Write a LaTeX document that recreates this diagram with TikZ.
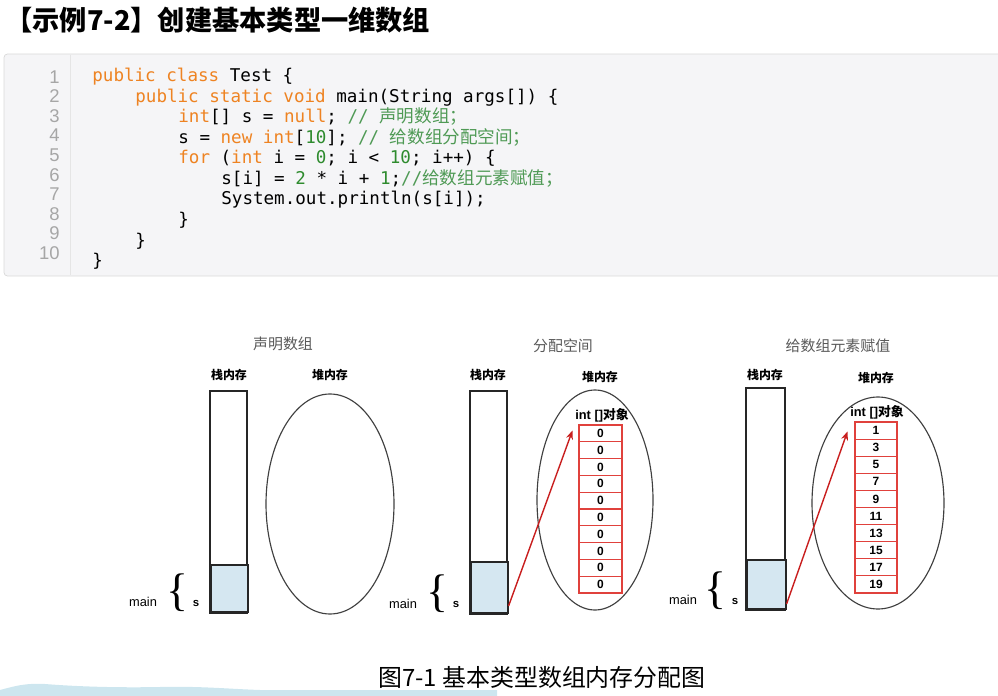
\documentclass[tikz,border=0pt]{standalone}
\usepackage{fontspec}
\setmainfont{Liberation Sans}
\setmonofont{DejaVu Sans Mono}
\newfontfamily\cjk{Noto Sans CJK SC}
\newfontfamily\bracefont{Liberation Serif}
\usetikzlibrary{arrows.meta}

\definecolor{kwc}{HTML}{EE8322}
\definecolor{numc}{HTML}{2E8B2E}
\definecolor{cmtc}{HTML}{4F9A55}
\definecolor{panel}{HTML}{F5F5F7}
\definecolor{cellred}{HTML}{E0413C}
\definecolor{ptrred}{HTML}{C81E1E}
\definecolor{sblue}{HTML}{D5E7F1}
\definecolor{wave}{HTML}{CDE6EF}
\newcommand\kw[1]{\textcolor{kwc}{#1}}
\newcommand\jnum[1]{\textcolor{numc}{#1}}
\newcommand\cmt[1]{\textcolor{cmtc}{#1}}

\begin{document}
\begin{tikzpicture}[x=0.02cm, y=-0.02cm, every node/.style={inner sep=0pt},
    codeline/.style={anchor=base west, font=\ttfamily\fontsize{10}{12}\selectfont},
    lineno/.style={anchor=base east, text=gray!70, font=\fontsize{10.5}{12}\selectfont},
    phase/.style={text=black!65, font=\cjk\fontsize{8.5}{10}\selectfont},
    memlbl/.style={font=\cjk\bfseries\fontsize{6.8}{8}\selectfont},
    objlbl/.style={font=\bfseries\fontsize{7.3}{8}\selectfont},
    lbl/.style={font=\fontsize{7.3}{8}\selectfont},
    brace/.style={font=\bracefont\fontsize{26}{26}\selectfont},
    stack/.style={draw=black!85, line width=0.9pt},
    scell/.style={draw=black!85, line width=0.9pt, fill=sblue},
    heap/.style={draw=black!75, line width=0.65pt},
    cell/.style={draw=cellred, line width=0.6pt, font=\bfseries\fontsize{6.8}{8}\selectfont},
    ptr/.style={draw=ptrred, line width=0.8pt, -{Stealth[length=5pt,width=4pt]}}]
    \useasboundingbox (0,0) rectangle (998,696);

    % Заголовок
    \node[anchor=west, font=\cjk\bfseries\fontsize{15.5}{18}\selectfont] (title) at (5,20) {【示例7-2】创建基本类型一维数组};

    % Окно с кодом
    \draw[fill=panel, draw=black!15, rounded corners=2pt] (4,54) rectangle (1012,276);
    \draw[black!10] (70,55) -- (70,275);
    \foreach \n in {1,...,10}
        \node[lineno] (n\n) at ({60},{83.5+(\n-1)*19.5}) {\n};
    \node[codeline] (c1) at (92,82) {\kw{public class} Test \{};
    \node[codeline] (c2) at (135,102.5) {\kw{public static void} main(String args[]) \{};
    \node[codeline] (c3) at (178,123) {\kw{int}[] s = \kw{null}; \cmt{// {\cjk 声明数组；}}};
    \node[codeline] (c4) at (178,143.5) {s = \kw{new int}[\jnum{10}]; \cmt{// {\cjk 给数组分配空间；}}};
    \node[codeline] (c5) at (178,164) {\kw{for} (\kw{int} i = \jnum{0}; i < \jnum{10}; i++) \{};
    \node[codeline] (c6) at (221,184.5) {s[i] = \jnum{2} * i + \jnum{1};\cmt{//{\cjk 给数组元素赋值；}}};
    \node[codeline] (c7) at (221,205) {System.out.println(s[i]);};
    \node[codeline] (c8) at (178,225.5) {\}};
    \node[codeline] (c9) at (135,246) {\}};
    \node[codeline] (c10) at (92,266.5) {\}};

    % Объявление массива
    \node[phase] (t1) at (283,344) {声明数组};
    \node[memlbl] (k1) at (229,375) {栈内存};
    \node[memlbl] (d1) at (330,375) {堆内存};
    \draw[stack] (210,391) rectangle (247,613);
    \node[scell, minimum width=.74cm, minimum height=.94cm, anchor=south west] (s1) at (210,613) {};
    \draw[heap] (330,504) ellipse [x radius=64, y radius=110];
    \node[lbl] (m1) at (143,602) {main};
    \node[brace] (b1) at (177,593) {\{};
    \node[lbl, font=\bfseries\fontsize{6.5}{8}\selectfont] (v1) at (196,603) {s};

    % Выделение памяти
    \node[phase] (t2) at (563,346) {分配空间};
    \node[memlbl] (k2) at (488,375) {栈内存};
    \node[memlbl] (d2) at (600,377) {堆内存};
    \draw[stack] (470,391) rectangle (507,614);
    \node[scell, minimum width=.74cm, minimum height=1.02cm, anchor=south west] (s2) at (470,614) {};
    \draw[heap] (595,500) ellipse [x radius=58, y radius=110];
    \node[objlbl] (o2) at (602,415) {int []{\cjk 对象}};
    \foreach \v [count=\i] in {0,0,0,0,0,0,0,0,0,0}
        \node[cell, minimum width=.86cm, minimum height=.336cm] (a\i) at ({600.5},{425+(\i-0.5)*16.8}) {\v};
    \draw[ptr] ([yshift=.16cm]s2.south east) -- ([xshift=-.12cm, yshift=-.12cm]a1.north west);
    \node[lbl] (m2) at (403,604) {main};
    \node[brace] (b2) at (437,594) {\{};
    \node[lbl, font=\bfseries\fontsize{6.5}{8}\selectfont] (v2) at (456,604) {s};

    % Присваивание элементов
    \node[phase] (t3) at (838,346) {给数组元素赋值};
    \node[memlbl] (k3) at (765,375) {栈内存};
    \node[memlbl] (d3) at (876,378) {堆内存};
    \draw[stack] (746,388) rectangle (785,610);
    \node[scell, minimum width=.78cm, minimum height=.98cm, anchor=south west] (s3) at (746,610) {};
    \draw[heap] (878,503) ellipse [x radius=66, y radius=106];
    \node[objlbl] (o3) at (877,412) {int []{\cjk 对象}};
    \foreach \v [count=\i] in {1,3,5,7,9,11,13,15,17,19}
        \node[cell, minimum width=.84cm, minimum height=.342cm] (e\i) at ({876},{422+(\i-0.5)*17.1}) {\v};
    \draw[ptr] ([yshift=.12cm]s3.south east) -- ([xshift=-.14cm, yshift=-.2cm]e1.north west);
    \node[lbl] (m3) at (683,600) {main};
    \node[brace] (b3) at (715,591) {\{};
    \node[lbl, font=\bfseries\fontsize{6.5}{8}\selectfont] (v3) at (735,601) {s};

    % Подпись
    \node[font=\cjk\fontsize{13.6}{16}\selectfont] (cap) at (542,677) {图7-1 基本类型数组内存分配图};
    \fill[wave] (0,696) -- (0,690) .. controls (15,686) and (25,683) .. (45,684)
        .. controls (70,686) and (110,688) .. (160,687)
        .. controls (200,686) and (230,689) .. (260,690) -- (497,690) -- (497,696) -- cycle;
\end{tikzpicture}
\end{document}
